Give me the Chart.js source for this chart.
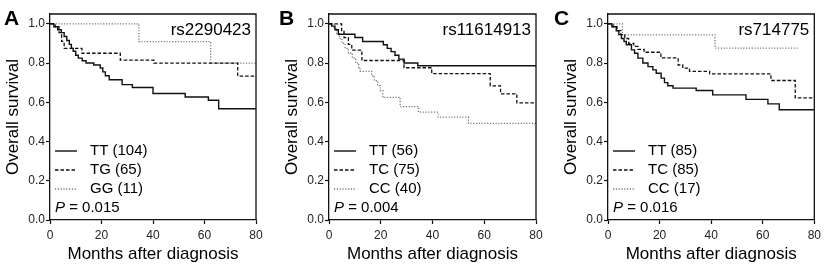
<!DOCTYPE html>
<html>
<head>
<meta charset="utf-8">
<script src="https://cdn.jsdelivr.net/npm/chart.js@4"></script>
<style>
  html, body { margin: 0; padding: 0; background: #fff; }
  .panel { position: absolute; top: 0; }
</style>
</head>
<body>
<canvas id="chartA" class="panel" width="275" height="271" style="left:0px"></canvas>
<canvas id="chartB" class="panel" width="275" height="271" style="left:275px"></canvas>
<canvas id="chartC" class="panel" width="275" height="271" style="left:550px"></canvas>
<script>
// axis ticks
const xTicks = [0, 20, 40, 60, 80];
const yTicks = [0, 0.2, 0.4, 0.6, 0.8, 1.0];

// panel texts
const panelLetters = ['A', 'B', 'C'];
const snpNames = ['rs2290423', 'rs11614913', 'rs714775'];
const pValues = ['0.015', '0.004', '0.016'];
const labelsA = ['TT (104)', 'TG (65)', 'GG (11)'];
const labelsB = ['TT (56)', 'TC (75)', 'CC (40)'];
const labelsC = ['TT (85)', 'TC (85)', 'CC (17)'];

// Kaplan-Meier curves: [month, survival after the step]
const A_TT = [[0,1],[1.5,0.985],[3,0.97],[4.4,0.955],[5.5,0.935],[6.5,0.915],[7.5,0.895],[8.3,0.875],[9,0.86],[10,0.84],[11,0.825],[12.5,0.812],[14,0.8],[17,0.79],[19.5,0.775],[20.5,0.755],[21.5,0.735],[23,0.715],[28,0.69],[32,0.675],[40,0.645],[52.5,0.627],[61.5,0.61],[65.5,0.567],[80,0.567]];
const A_TG = [[0,1],[2,0.985],[3.5,0.955],[4.5,0.91],[5.5,0.875],[12.4,0.85],[27.3,0.815],[40.3,0.8],[72.9,0.733],[80,0.733]];
const A_GG = [[0,1],[34.5,0.909],[62.4,0.8],[80,0.8]];

const B_TT = [[0,1],[1,0.988],[2.3,0.97],[3.6,0.947],[10,0.93],[13,0.91],[21,0.893],[22.5,0.875],[24,0.858],[25.5,0.84],[27,0.82],[29,0.8],[34.3,0.786],[80,0.786]];
const B_TC = [[0,1],[4.9,0.965],[5.8,0.93],[7.5,0.895],[8.8,0.866],[12.7,0.813],[29,0.776],[39.7,0.746],[62.3,0.684],[66.3,0.643],[72.6,0.597],[80,0.597]];
const B_CC = [[0,1],[2,0.975],[3,0.95],[4,0.925],[5,0.9],[6.2,0.875],[7.5,0.85],[9,0.825],[10.3,0.8],[11.5,0.775],[12,0.758],[16.5,0.735],[17.5,0.71],[18.8,0.685],[19.8,0.66],[20.8,0.625],[27.5,0.578],[34.6,0.55],[42.2,0.524],[53.9,0.493],[80,0.493]];

const C_TT = [[0,1],[1.5,0.985],[3.2,0.965],[4.2,0.945],[5.2,0.925],[6.2,0.91],[7.1,0.893],[9.1,0.867],[10.3,0.85],[11.6,0.825],[13.5,0.8],[15.5,0.782],[17.4,0.765],[18.7,0.748],[20.6,0.723],[21.9,0.7],[23.2,0.684],[25.2,0.672],[34.2,0.66],[40.6,0.638],[53.5,0.615],[62,0.592],[66.4,0.562],[80,0.562]];
const C_TC = [[0,1],[2,0.985],[3.5,0.965],[5,0.945],[6.5,0.925],[8,0.9],[10,0.885],[11.6,0.87],[14,0.855],[20.5,0.826],[27.2,0.79],[29,0.774],[31.6,0.758],[39.4,0.745],[63.2,0.711],[72.6,0.622],[80,0.622]];
const C_CC = [[0,1],[5.6,0.944],[41.5,0.876],[74,0.876]];

const FONT = '"Liberation Sans", Arial, sans-serif';
const lineStyles = [
  { color: '#111', dash: [], width: 1.4 },
  { color: '#111', dash: [3.5, 2], width: 1.3 },
  { color: '#777', dash: [1.2, 1.6], width: 1.3 }
];

const panelDecor = {
  id: 'panelDecor',
  afterDraw(chart, args, opts) {
    const { ctx, chartArea: ca } = chart;
    ctx.save();
    // box around plot
    ctx.strokeStyle = '#111';
    ctx.lineWidth = 1.3;
    ctx.beginPath();
    ctx.moveTo(ca.left, ca.top);
    ctx.lineTo(ca.right, ca.top);
    ctx.lineTo(ca.right, ca.bottom);
    ctx.stroke();

    // panel letter
    ctx.fillStyle = '#000';
    ctx.font = 'bold 21px ' + FONT;
    ctx.textBaseline = 'alphabetic';
    ctx.textAlign = 'left';
    ctx.fillText(opts.letter, 4, 25);

    // SNP name
    ctx.font = '17px ' + FONT;
    ctx.textAlign = 'right';
    ctx.fillText(opts.snp, ca.right - 5, 35);

    // legend
    ctx.textAlign = 'left';
    ctx.textBaseline = 'middle';
    ctx.font = '15px ' + FONT;
    chart.data.datasets.forEach((ds, i) => {
      const y = 151 + i * 19;
      ctx.strokeStyle = ds.borderColor;
      ctx.lineWidth = ds.borderWidth;
      ctx.setLineDash(ds.borderDash);
      ctx.beginPath();
      ctx.moveTo(ca.left + 5, y);
      ctx.lineTo(ca.left + 27, y);
      ctx.stroke();
      ctx.setLineDash([]);
      ctx.fillStyle = '#000';
      ctx.fillText(ds.label, ca.left + 40, y);
    });

    // P value
    const py = 207.5;
    ctx.font = 'italic 15px ' + FONT;
    ctx.fillText('P', ca.left + 5, py);
    const pw = ctx.measureText('P').width;
    ctx.font = '15px ' + FONT;
    ctx.fillText(' = ' + opts.p, ca.left + 5 + pw, py);
    ctx.restore();
  }
};

function makePanel(canvasId, idx, labels, series, padLeft, padRight) {
  const ctx = document.getElementById(canvasId).getContext('2d');
  return new Chart(ctx, {
    type: 'line',
    data: {
      datasets: series.map((s, i) => ({
        label: labels[i],
        data: s.map(([x, y]) => ({ x, y })),
        borderColor: lineStyles[i].color,
        borderDash: lineStyles[i].dash,
        borderWidth: lineStyles[i].width,
        stepped: 'before',
        pointRadius: 0,
        fill: false
      }))
    },
    options: {
      responsive: false,
      animation: false,
      devicePixelRatio: 1,
      layout: { padding: { left: padLeft, right: padRight, top: 14, bottom: 0 } },
      plugins: {
        legend: { display: false },
        tooltip: { enabled: false },
        panelDecor: { letter: panelLetters[idx], snp: snpNames[idx], p: pValues[idx] }
      },
      scales: {
        x: {
          type: 'linear',
          min: 0,
          max: 80,
          afterBuildTicks: (scale) => { scale.ticks = xTicks.map(v => ({ value: v })); },
          afterFit: (scale) => { scale.height = 51; },
          border: { display: true, color: '#111', width: 1.3 },
          grid: { drawOnChartArea: false, drawTicks: true, tickLength: 4, color: '#111', tickWidth: 1.2 },
          ticks: { color: '#222', font: { family: FONT, size: 12 }, padding: 4, maxRotation: 0 },
          title: { display: true, text: 'Months after diagnosis', color: '#000', font: { family: FONT, size: 17 }, padding: { top: 0, bottom: 6 } }
        },
        y: {
          min: 0,
          max: 1.05,
          afterBuildTicks: (scale) => { scale.ticks = yTicks.map(v => ({ value: v })); },
          afterFit: (scale) => { scale.width = 47; },
          border: { display: true, color: '#111', width: 1.3 },
          grid: { drawOnChartArea: false, drawTicks: true, tickLength: 4, color: '#111', tickWidth: 1.2 },
          ticks: { color: '#222', font: { family: FONT, size: 12 }, padding: 1, callback: (v) => Number(v).toFixed(1) },
          title: { display: true, text: 'Overall survival', color: '#000', font: { family: FONT, size: 17 }, padding: { top: 0, bottom: 0 } }
        }
      }
    },
    plugins: [panelDecor]
  });
}

makePanel('chartA', 0, labelsA, [A_TT, A_TG, A_GG], 3, 19);
makePanel('chartB', 1, labelsB, [B_TT, B_TC, B_CC], 7, 14);
makePanel('chartC', 2, labelsC, [C_TT, C_TC, C_CC], 11, 10);
</script>
</body>
</html>
